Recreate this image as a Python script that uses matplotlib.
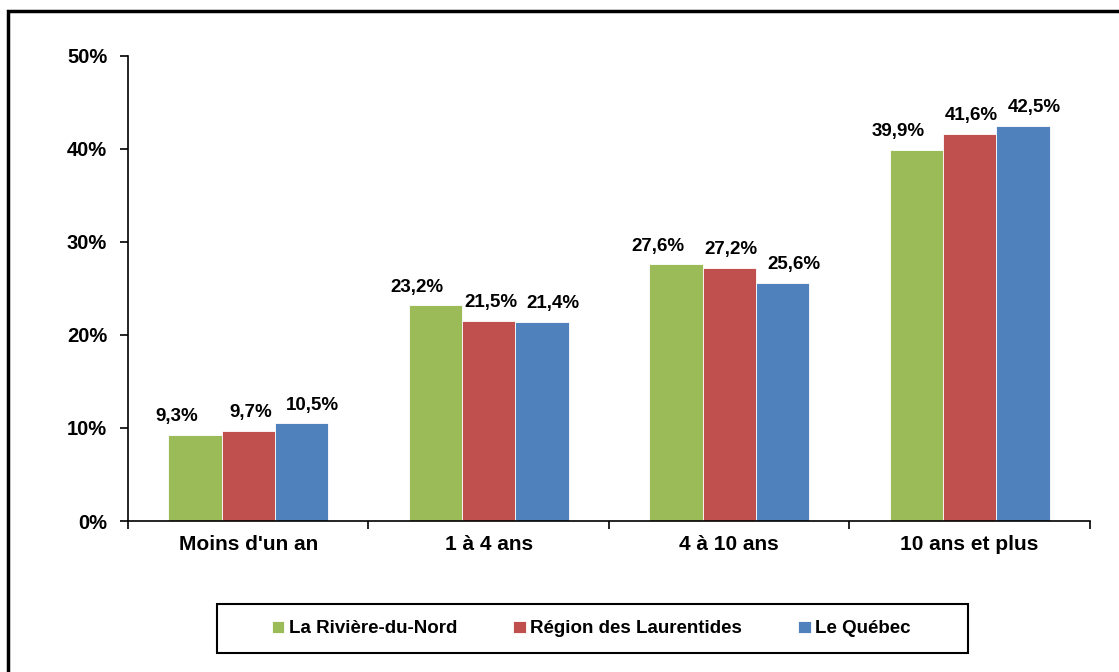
import matplotlib.pyplot as plt
import numpy as np
from matplotlib.patches import Rectangle

plt.rcParams['font.family'] = ['Liberation Sans', 'DejaVu Sans']
plt.rcParams['font.weight'] = 'bold'

# Données
categories = ["Moins d'un an", "1 à 4 ans", "4 à 10 ans", "10 ans et plus"]
series_names = ["La Rivière-du-Nord", "Région des Laurentides", "Le Québec"]
riviere_du_nord = [9.3, 23.2, 27.6, 39.9]
laurentides = [9.7, 21.5, 27.2, 41.6]
quebec = [10.5, 21.4, 25.6, 42.5]
y_ticks = [0, 10, 20, 30, 40, 50]

colors = ['#9BBB59', '#C0504D', '#4F81BD']
label_dx = [-13, 1.5, 8]  # décalage horizontal des étiquettes (points)

fig = plt.figure(figsize=(11.19, 6.72), dpi=100)
ax = fig.add_axes([0.1144, 0.2247, 0.8596, 0.692])

x = np.arange(len(categories))
width = 0.222
all_series = [riviere_du_nord, laurentides, quebec]
for i, (vals, name, col) in enumerate(zip(all_series, series_names, colors)):
    pos = x + (i - 1) * width
    bars = ax.bar(pos, vals, width, color=col, label=name, edgecolor='white', linewidth=0.6)
    for b, v in zip(bars, vals):
        ax.annotate(f'{v:.1f}%'.replace('.', ','), (b.get_x() + b.get_width() / 2, v),
                    xytext=(label_dx[i], 7), textcoords='offset points', ha='center', va='bottom',
                    fontsize=13.5, fontweight='bold')

ax.set_xlim(-0.5, 3.5)
ax.set_ylim(0, 50)
ax.set_yticks(y_ticks)
ax.set_yticklabels([f'{t}%' for t in y_ticks], fontsize=14.5, fontweight='bold')
ax.set_xticks(x)
ax.set_xticklabels(categories, fontsize=15, fontweight='bold')
ax.tick_params(axis='x', length=0, pad=10)
ax.set_xticks(np.arange(-0.5, 4, 1), minor=True)
ax.tick_params(axis='x', which='minor', length=6, width=1.2, direction='out')
ax.tick_params(axis='y', length=6, width=1.2, direction='out', pad=9)

for s in ['top', 'right']:
    ax.spines[s].set_visible(False)
for s in ['left', 'bottom']:
    ax.spines[s].set_linewidth(1.2)

leg = fig.legend(loc='center', bbox_to_anchor=(0.5285, 0.064), ncol=3,
                 frameon=False, handlelength=0.65, handleheight=0.65,
                 handletextpad=0.25, columnspacing=3.0,
                 prop={'weight': 'bold', 'size': 13.5})

# cadre de la légende
fig.patches.append(Rectangle((217 / 1119, 1 - 653 / 672), 751 / 1119, 49 / 672,
                             transform=fig.transFigure, fill=False,
                             edgecolor='black', linewidth=1.5))

# cadre extérieur
fig.patches.append(Rectangle((8 / 1119, -0.05), 1.1, 1.05 - 11 / 672, transform=fig.transFigure,
                             fill=False, edgecolor='black', linewidth=2.5))

fig.savefig('out.png', dpi=100)
